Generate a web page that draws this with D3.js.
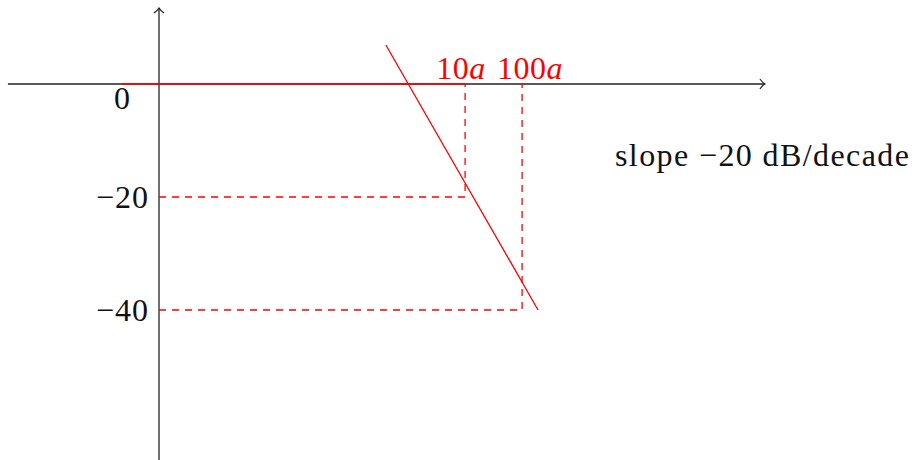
<!DOCTYPE html>
<html>
<head>
<meta charset="utf-8">
<script src="https://cdn.jsdelivr.net/npm/d3@7"></script>
<style>
  html, body { margin: 0; padding: 0; background: #fff; }
  svg text { font-family: "Liberation Serif", "DejaVu Serif", serif; }
</style>
</head>
<body>
<svg id="chart" width="917" height="460"></svg>
<script>
// Magnitude levels marked on the vertical axis (dB)
const dbTicks = [0, -20, -40];
const dbTickLabels = ["0", "\u221220", "\u221240"];

// Corner frequencies, in decades along the horizontal axis
const cornerNames = ["10", "100"];
const cornerDecades = [5.37, 6.37];
const cornerDb = [-20, -40];

// Flat asymptote at 0 dB and the falling asymptote
const flatDecades = [-0.65, 5.37];
const flatDb = [0, 0];
const slopeDecades = [3.98, 6.65];
const slopeDb = [6.9, -40];

// Extent of the two axes
const xAxisDecades = [-2.65, 10.63];
const yAxisDb = [13.45, -66.6];

const slopeText = "slope \u221220 dB/decade";

const RED = "#ff0000";
const INK = "#222";
const FONT = 32;

const svg = d3.select("#chart");

const x = d3.scaleLinear().domain([0, 1]).range([159, 216]);
const y = d3.scaleLinear().domain([0, -20]).range([84, 197]);

const line = d3.line().x(d => x(d[0])).y(d => y(d[1]));

// Axes
svg.append("path")
  .attr("d", line([[xAxisDecades[0], 0], [xAxisDecades[1], 0]]))
  .attr("stroke", INK).attr("stroke-width", 1.3).attr("fill", "none");
svg.append("path")
  .attr("d", line([[0, yAxisDb[1]], [0, yAxisDb[0]]]))
  .attr("stroke", INK).attr("stroke-width", 1.3).attr("fill", "none");

// Arrow tips
const ax = x(xAxisDecades[1]), ay = y(0);
svg.append("path")
  .attr("d", `M${ax - 5},${ay - 5} Q${ax - 2},${ay - 1} ${ax},${ay} Q${ax - 2},${ay + 1} ${ax - 5},${ay + 5}`)
  .attr("stroke", INK).attr("stroke-width", 1.2).attr("fill", "none");
const tx = x(0), ty = y(yAxisDb[0]);
svg.append("path")
  .attr("d", `M${tx - 5},${ty + 5} Q${tx - 1},${ty + 2} ${tx},${ty} Q${tx + 1},${ty + 2} ${tx + 5},${ty + 5}`)
  .attr("stroke", INK).attr("stroke-width", 1.2).attr("fill", "none");

// Dashed guides to each corner frequency
cornerDecades.forEach((c, i) => {
  svg.append("path")
    .attr("d", line([[0, cornerDb[i]], [c, cornerDb[i]], [c, 0]]))
    .attr("stroke", RED).attr("stroke-width", 1.3).attr("fill", "none")
    .attr("stroke-dasharray", "7 6");
});

// Asymptotes
svg.append("path")
  .attr("d", line(flatDecades.map((d, i) => [d, flatDb[i]])))
  .attr("stroke", RED).attr("stroke-width", 1.3).attr("fill", "none");
svg.append("path")
  .attr("d", line(slopeDecades.map((d, i) => [d, slopeDb[i]])))
  .attr("stroke", RED).attr("stroke-width", 1.3).attr("fill", "none");

// Magnitude labels
dbTicks.forEach((v, i) => {
  const t = svg.append("text")
    .attr("font-size", FONT)
    .attr("letter-spacing", 1)
    .attr("fill", "#111")
    .attr("text-anchor", "end")
    .text(dbTickLabels[i]);
  if (v === 0) {
    t.attr("x", x(0) - 28).attr("y", y(0) + 25);
  } else {
    t.attr("x", x(0) - 10).attr("y", y(v) + 11);
  }
});

// Corner frequency labels
const labelShift = [-4, 8];
cornerDecades.forEach((c, i) => {
  const t = svg.append("text")
    .attr("font-size", FONT)
    .attr("letter-spacing", 0.5)
    .attr("fill", RED)
    .attr("text-anchor", "middle")
    .attr("x", x(c) + labelShift[i])
    .attr("y", y(0) - 5);
  t.append("tspan").text(cornerNames[i]);
  t.append("tspan").attr("font-style", "italic").text("a");
});

// Slope annotation
svg.append("text")
  .attr("font-size", FONT)
  .attr("letter-spacing", 1.4)
  .attr("fill", "#111")
  .attr("x", 615)
  .attr("y", y(-14.6))
  .text(slopeText);
</script>
</body>
</html>
